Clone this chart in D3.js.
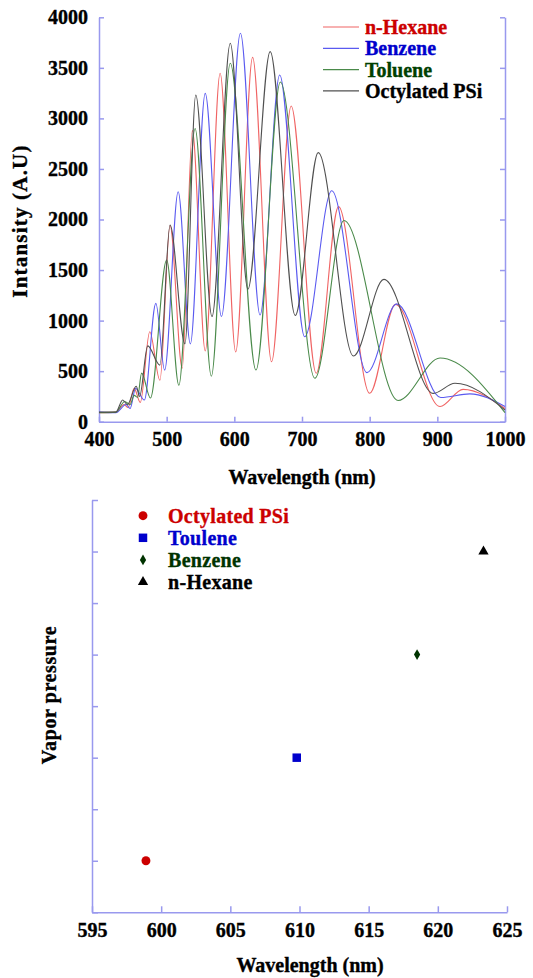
<!DOCTYPE html>
<html>
<head>
<meta charset="utf-8">
<script src="https://cdn.jsdelivr.net/npm/d3@7"></script>
<style>
  body { margin: 0; background: #fff; }
  svg text { font-family: "Liberation Serif", "Times New Roman", serif !important; font-weight: bold; stroke-width: 0.35px; }
</style>
</head>
<body>
<svg id="chart" width="533" height="978"></svg>
<script>
// spectra: [wavelength (nm), intensity] at the peaks and troughs
const hexane = [[400,90],[425,95],[437,170],[443,140],[452,330],[461,190],[475,890],[490,410],[505,1940],[523,530],[538,2880],[557,700],[579,3446],[602,690],[627,3604],[655,593],[684,3122],[721,479],[754,2127],[800,281],[838,1160],[904,150],[938,320],[1000,130]];
const benzene = [[400,95],[425,90],[440,170],[446,130],[454,330],[467,215],[484,1170],[497,510],[517,2275],[535,770],[557,3248],[581,1040],[609,3842],[638,1055],[667,3430],[704,840],[744,2285],[796,485],[840,1165],[905,240],[948,275],[1000,150]];
const toluene = [[400,90],[425,95],[438,200],[446,170],[452,260],[457,240],[463,480],[476,235],[500,1600],[518,360],[542,2900],[566,450],[594,3545],[632,511],[668,3360],[719,430],[762,1990],[842,210],[904,630],[1000,90]];
const octylPSi = [[400,95],[425,95],[435,215],[442,170],[455,350],[460,250],[472,750],[490,560],[505,1946],[527,770],[543,3231],[567,1040],[594,3743],[620,1310],[653,3660],[690,1050],[724,2661],[776,650],[821,1408],[894,280],[926,380],[1000,116]];

const spectraNames = ["n-Hexane", "Benzene", "Toluene", "Octylated PSi"];
const spectraLineColors = ["#f06464", "#5a5af0", "#4a8a4a", "#505050"];
const spectraTextColors = ["#cc0000", "#0000cc", "#004000", "#000000"];

const intensityTicks = [0, 500, 1000, 1500, 2000, 2500, 3000, 3500, 4000];
const wlTicks = [400, 500, 600, 700, 800, 900, 1000];

// lower plot
const solvents = ["Octylated PSi", "Toulene", "Benzene", "n-Hexane"];
const peakWl = [598.9, 609.8, 618.5, 623.3];
const vaporP = [1, 3, 5, 7];
const solventColors = ["#cc0000", "#0000cc", "#003300", "#000000"];
const solventSymbols = [d3.symbolCircle, d3.symbolSquare, d3.symbolDiamond, d3.symbolTriangle];
const solventSizes = [62, 72, 34, 46];
const vpTicks = [0, 1, 2, 3, 4, 5, 6, 7, 8];
const wl2Ticks = [595, 600, 605, 610, 615, 620, 625];

const axisColor = "#9999ee";
const svg = d3.select("#chart");

function styleAxis(g) {
  g.attr("font-size", 20);
  g.select(".domain").attr("stroke", axisColor).attr("stroke-width", 1.5);
  g.selectAll(".tick line").attr("stroke", axisColor).attr("stroke-width", 1.5);
  g.selectAll(".tick text").attr("fill", "#000").attr("stroke", "#000");
}

/* ---------- top chart ---------- */
const x1 = d3.scaleLinear().domain([400, 1000]).range([99, 505]);
const y1 = d3.scaleLinear().domain([0, 4000]).range([421.7, 17.3]);

svg.append("g").attr("transform", "translate(0,421.7)")
  .call(d3.axisBottom(x1).tickValues(wlTicks).tickFormat(d3.format("d"))
    .tickSizeInner(-5).tickSizeOuter(0).tickPadding(10.5))
  .call(styleAxis);
svg.append("g").attr("transform", "translate(99,0)")
  .call(d3.axisLeft(y1).tickValues(intensityTicks).tickFormat(d3.format("d"))
    .tickSizeInner(-5).tickSizeOuter(0).tickPadding(11))
  .call(styleAxis);
svg.append("g").attr("transform", "translate(505,0)")
  .call(d3.axisRight(y1).tickValues(intensityTicks).tickSizeInner(-5).tickSizeOuter(0).tickFormat(""))
  .call(styleAxis);

const line = d3.line()
  .x(d => x1(d[0]))
  .y(d => y1(d[1]))
  .curve(d3.curveMonotoneX);

[hexane, benzene, toluene, octylPSi].forEach(function(s, i){
  svg.append("path")
    .datum(s)
    .attr("d", line)
    .attr("fill", "none")
    .attr("stroke", spectraLineColors[i])
    .attr("stroke-width", 1.1);
});

// legend
const leg1 = svg.append("g");
spectraNames.forEach(function(n, i){
  const yy = 27 + i * 21.3;
  leg1.append("line").attr("x1", 323).attr("x2", 359).attr("y1", yy).attr("y2", yy)
    .attr("stroke", spectraLineColors[i]).attr("stroke-width", 1.2);
  leg1.append("text").attr("x", 365).attr("y", yy).attr("dy", "0.35em")
    .style("font-size", "20px").attr("fill", spectraTextColors[i]).attr("stroke", spectraTextColors[i]).text(n);
});

svg.append("text").attr("x", 302).attr("y", 484).attr("text-anchor", "middle")
  .style("font-size", "20px").attr("stroke", "#000").text("Wavelength (nm)");
svg.append("text").attr("transform", "translate(27,221) rotate(-90)").attr("text-anchor", "middle")
  .style("font-size", "21px").style("letter-spacing", "1.2px").attr("stroke", "#000").text("Intansity (A.U)");

/* ---------- bottom chart ---------- */
const x2 = d3.scaleLinear().domain([595, 625]).range([92, 507]);
const y2 = d3.scaleLinear().domain([0, 8]).range([912.3, 500]);

svg.append("g").attr("transform", "translate(0,912.3)")
  .call(d3.axisBottom(x2).tickValues(wl2Ticks).tickFormat(d3.format("d"))
    .tickSizeInner(-6).tickSizeOuter(0).tickPadding(11))
  .call(styleAxis);
svg.append("g").attr("transform", "translate(92,0)")
  .call(d3.axisLeft(y2).tickValues(vpTicks).tickSizeInner(-6).tickSizeOuter(0).tickFormat(""))
  .call(styleAxis);

solvents.forEach(function(s, i){
  svg.append("path")
    .attr("d", d3.symbol().type(solventSymbols[i]).size(solventSizes[i]))
    .attr("transform", "translate(" + x2(peakWl[i]) + "," + y2(vaporP[i]) + ")")
    .attr("fill", solventColors[i]);
});

const leg2 = svg.append("g");
solvents.forEach(function(s, i){
  const yy = 515.7 + i * 22.1;
  leg2.append("path")
    .attr("d", d3.symbol().type(solventSymbols[i]).size(solventSizes[i]))
    .attr("transform", "translate(143," + yy + ")")
    .attr("fill", solventColors[i]);
  leg2.append("text").attr("x", 168).attr("y", yy).attr("dy", "0.35em")
    .style("font-size", "20px").style("letter-spacing", "0.3px")
    .attr("fill", solventColors[i]).attr("stroke", solventColors[i]).text(s);
});

svg.append("text").attr("x", 310).attr("y", 972).attr("text-anchor", "middle")
  .style("font-size", "20px").attr("stroke", "#000").text("Wavelength (nm)");
svg.append("text").attr("transform", "translate(56,695) rotate(-90)").attr("text-anchor", "middle")
  .style("font-size", "20px").style("letter-spacing", "0.6px").attr("stroke", "#000").text("Vapor pressure");
</script>
</body>
</html>
